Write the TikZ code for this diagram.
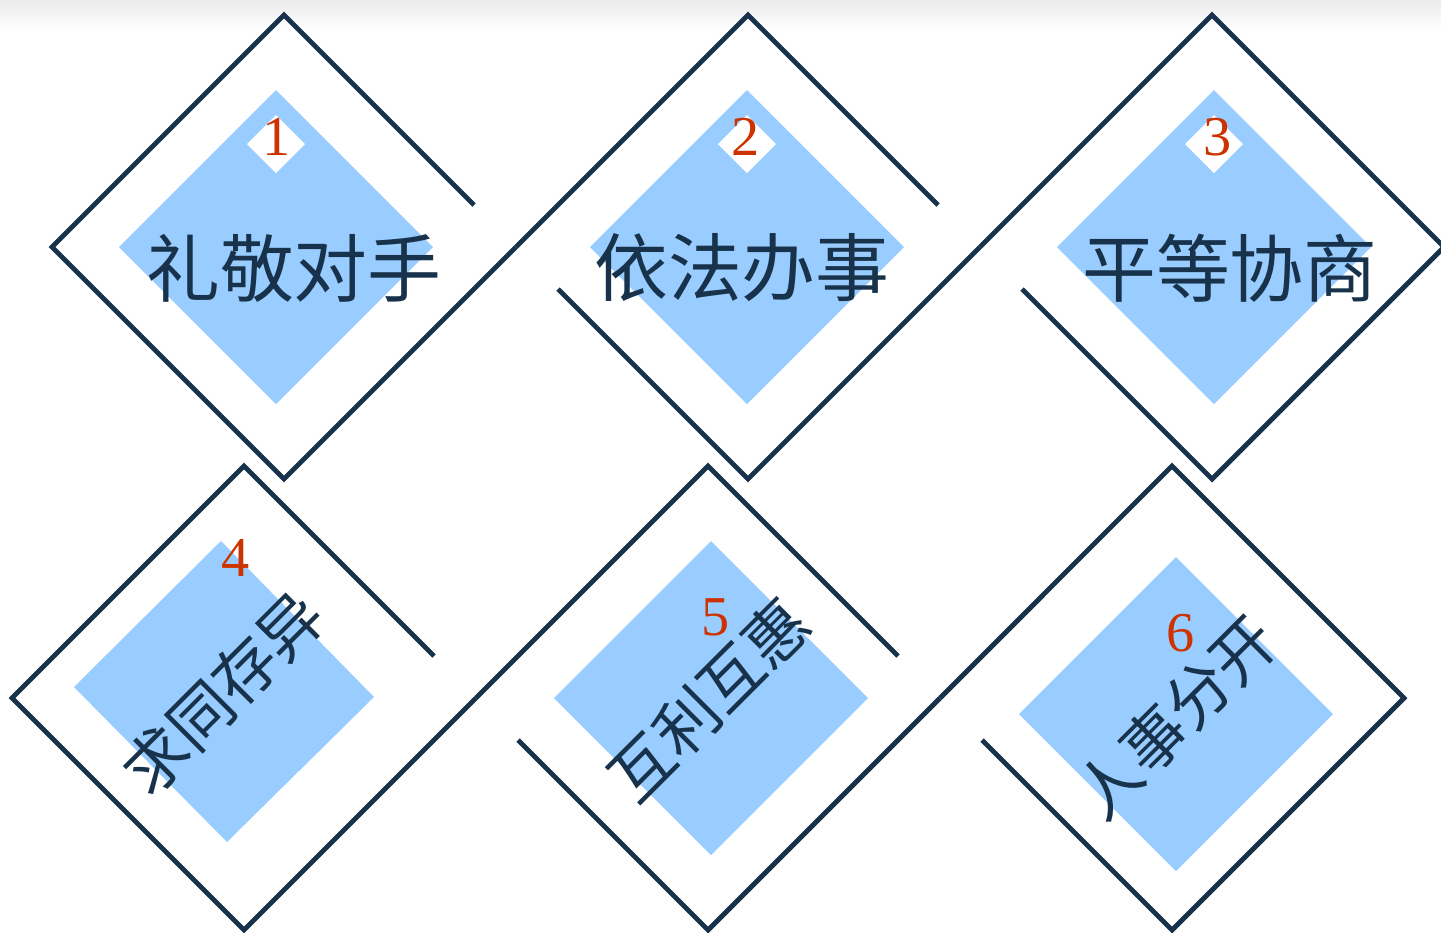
\documentclass[tikz,border=0pt]{standalone}
\usepackage{fontspec}
\newfontfamily\cjk{Noto Sans CJK SC}
\newfontfamily\numfont{Liberation Serif}
\definecolor{navy}{HTML}{17324A}
\definecolor{skyblue}{HTML}{99CCFF}
\definecolor{numred}{HTML}{CC3300}
\begin{document}
\begin{tikzpicture}[x=0.01cm,y=-0.01cm,
    frameline/.style={navy,line width=1.4pt},
    bluebox/.style={fill=skyblue},
    numbox/.style={fill=white},
    numlabel/.style={text=numred,font=\numfont\fontsize{16}{16}\selectfont,inner sep=0pt},
    tagtext/.style={text=navy,font=\cjk\fontsize{21}{21}\selectfont,inner sep=0pt},
    slanttext/.style={text=navy,font=\cjk\fontsize{18}{18}\selectfont,inner sep=0pt,rotate=45}]

    \useasboundingbox (0,0) rectangle (1441,932);
    \shade[top color=black!8,bottom color=white] (0,0) rectangle (1441,30);

    \fill[bluebox] (276,90) -- (433,247) -- (276,404) -- (119,247) -- cycle;
    \fill[bluebox] (747,90) -- (904,247) -- (747,404) -- (590,247) -- cycle;
    \fill[bluebox] (1214,90) -- (1371,247) -- (1214,404) -- (1057,247) -- cycle;
    \fill[bluebox] (221,541) -- (374,697) -- (227,842) -- (74,687) -- cycle;
    \fill[bluebox] (711,541) -- (868,698) -- (711,855) -- (554,698) -- cycle;
    \fill[bluebox] (1176,557) -- (1333,714) -- (1176,871) -- (1019,714) -- cycle;

    \fill[numbox] (276,115) -- (305,144) -- (276,173) -- (247,144) -- cycle;
    \fill[numbox] (747,115) -- (776,144) -- (747,173) -- (718,144) -- cycle;
    \fill[numbox] (1214,115) -- (1243,144) -- (1214,173) -- (1185,144) -- cycle;

    \draw[frameline] (474,205) -- (284,15) -- (52,247) -- (284,479) -- (516,247);
    \draw[frameline] (516,247) -- (748,15) -- (938,205);
    \draw[frameline] (980,247) -- (748,479) -- (558,289);
    \draw[frameline] (1022,289) -- (1212,479) -- (1444,247) -- (1212,15) -- (980,247);

    \draw[frameline] (434,656) -- (244,466) -- (12,698) -- (244,930) -- (476,698);
    \draw[frameline] (476,698) -- (708,466) -- (898,656);
    \draw[frameline] (940,698) -- (708,930) -- (518,740);
    \draw[frameline] (982,740) -- (1172,930) -- (1404,698) -- (1172,466) -- (940,698);

    \node[numlabel] (n1) at (277,137) {1};
    \node[numlabel] (n2) at (746,137) {2};
    \node[numlabel] (n3) at (1218,137) {3};
    \node[numlabel] (n4) at (236,558) {4};
    \node[numlabel] (n5) at (716,617) {5};
    \node[numlabel] (n6) at (1181,633) {6};

    \node[tagtext] (t1) at (294,268) {礼敬对手};
    \node[tagtext] (t2) at (742,268) {依法办事};
    \node[tagtext] (t3) at (1230,268) {平等协商};
    \node[slanttext] (t4) at (223,693) {求同存异};
    \node[slanttext] (t5) at (709,700) {互利互惠};
    \node[slanttext] (t6) at (1176,717) {人事分开};
    \end{tikzpicture}
\end{document}
